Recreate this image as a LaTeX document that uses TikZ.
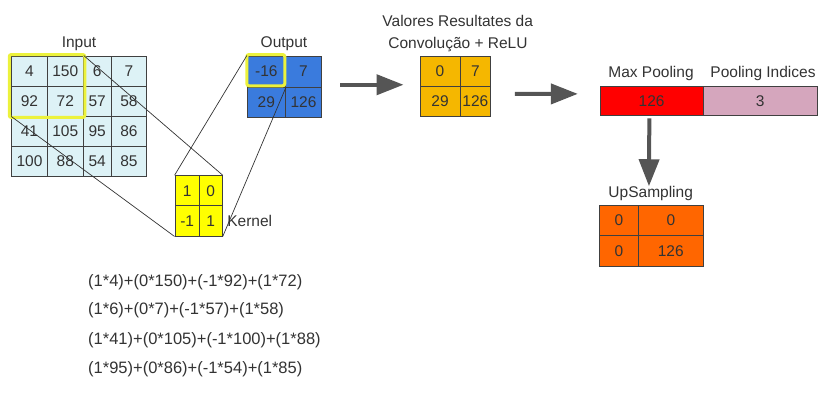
\documentclass[tikz,border=0pt]{standalone}
\usepackage{fontspec}
\setmainfont{Liberation Sans}
\usetikzlibrary{arrows.meta,positioning}
\definecolor{incyan}{RGB}{221,242,246}
\definecolor{outblue}{RGB}{58,123,221}
\definecolor{reluamber}{RGB}{245,183,0}
\definecolor{poolred}{RGB}{255,0,0}
\definecolor{idxpink}{RGB}{213,166,189}
\definecolor{uporange}{RGB}{255,102,0}
\definecolor{kernyellow}{RGB}{255,255,0}
\definecolor{hlyellow}{RGB}{236,242,60}
\definecolor{arrowgray}{RGB}{85,85,85}

\begin{document}
\begin{tikzpicture}[x=1pt,y=-1pt,font=\fontsize{15.5}{18}\selectfont,text=black!80]
  \tikzstyle{cell}=[draw=black!75,line width=0.9pt,inner sep=0pt,minimum height=30pt]
  \tikzstyle{lbl}=[inner sep=0pt,font=\fontsize{15.5}{18}\selectfont]
  \tikzstyle{formula}=[inner sep=0pt,anchor=base west,font=\fontsize{16.5}{20}\selectfont]
  \tikzstyle{bigarrow}=[-{Triangle[length=27pt,width=20pt]},line width=4pt,draw=arrowgray,fill=arrowgray]
  \tikzstyle{link}=[draw=black!80,line width=0.7pt]
  \tikzstyle{window}=[draw=hlyellow,line width=3pt,rounded corners=2pt]

  \useasboundingbox (0,0) rectangle (818,392);

  % input
  \foreach \r/\ry/\a/\b/\c/\d in {1/71/4/150/6/7,2/101/92/72/57/58,3/131/41/105/95/86,4/161/100/88/54/85}{
    \node[cell,fill=incyan,minimum width=35.6pt] (in\r1) at (29.5,\ry) {\a};
    \node[cell,fill=incyan,minimum width=36pt] (in\r2) at (65.3,\ry) {\b};
    \node[cell,fill=incyan,minimum width=27.7pt] (in\r3) at (97.2,\ry) {\c};
    \node[cell,fill=incyan,minimum width=35.7pt] (in\r4) at (128.9,\ry) {\d};
  }
  \node[lbl,anchor=base] (inlbl) at (79,47.3) {Input};
  \draw[window] ([shift={(-2,-1)}]in11.north west) rectangle ([shift={(1,1)}]in22.south east);

  % kernel
  \node[cell,fill=kernyellow,minimum width=24.3pt] (ker11) at (187.15,190.7) {1};
  \node[cell,fill=kernyellow,minimum width=23pt] (ker12) at (210.8,190.7) {0};
  \node[cell,fill=kernyellow,minimum width=24.3pt,minimum height=30.3pt] (ker21) at (187.15,220.85) {-1};
  \node[cell,fill=kernyellow,minimum width=23pt,minimum height=30.3pt] (ker22) at (210.8,220.85) {1};
  \node[lbl,right=4.4pt of ker22] (kerlbl) {Kernel};

  % output
  \node[cell,fill=outblue,minimum width=38pt,minimum height=31.3pt] (out11) at (266.3,71.65) {-16};
  \node[cell,fill=outblue,minimum width=36.4pt,minimum height=31.3pt] (out12) at (303.5,71.65) {7};
  \node[cell,fill=outblue,minimum width=38pt] (out21) at (266.3,102.3) {29};
  \node[cell,fill=outblue,minimum width=36.4pt] (out22) at (303.5,102.3) {126};
  \node[lbl,anchor=base] (outlbl) at (284,47.9) {Output};
  \draw[window] ([shift={(0,-1)}]out11.north west) rectangle ([shift={(-1,-2)}]out11.south east);

  \draw[link] (in12.north east) -- (ker12.north east);
  \draw[link] (in21.south west) -- (ker21.south west);
  \draw[link] (ker11.north west) -- (out11.north west);
  \draw[link] (ker22.south east) -- (out11.south east);

  % convolution + relu
  \node[cell,fill=reluamber,minimum width=40pt,minimum height=30.3pt] (relu11) at (440,71.15) {0};
  \node[cell,fill=reluamber,minimum width=30.7pt,minimum height=30.3pt] (relu12) at (475.35,71.15) {7};
  \node[cell,fill=reluamber,minimum width=40pt,minimum height=30.4pt] (relu21) at (440,101.5) {29};
  \node[cell,fill=reluamber,minimum width=30.7pt,minimum height=30.4pt] (relu22) at (475.35,101.5) {126};
  \node[lbl,anchor=base] (relulbl1) at (457.7,26.7) {Valores Resultates da};
  \node[lbl,anchor=base] (relulbl2) at (458,48.3) {Convolução + ReLU};

  % pooling
  \node[cell,fill=poolred,minimum width=103.3pt,minimum height=28.3pt] (maxp) at (651.65,100.85) {126};
  \node[cell,fill=idxpink,minimum width=113.7pt,minimum height=28.3pt] (idx) at (760.15,100.85) {3};
  \node[lbl,anchor=base] (maxlbl) at (651,77.3) {Max Pooling};
  \node[lbl,anchor=base] (idxlbl) at (763,77.3) {Pooling Indices};

  % upsampling
  \node[cell,fill=uporange,minimum width=39pt,minimum height=30.7pt] (up11) at (618.8,220.35) {0};
  \node[cell,fill=uporange,minimum width=65pt,minimum height=30.7pt] (up12) at (670.8,220.35) {0};
  \node[cell,fill=uporange,minimum width=39pt,minimum height=31pt] (up21) at (618.8,251.2) {0};
  \node[cell,fill=uporange,minimum width=65pt,minimum height=31pt] (up22) at (670.8,251.2) {126};
  \node[lbl,anchor=base] (uplbl) at (650.7,197.3) {UpSampling};

  \draw[bigarrow,shorten <=18.3pt,shorten >=16pt] ([yshift=3pt]out12.south east) -- ([yshift=2pt]relu11.south west);
  \draw[bigarrow,shorten <=23.6pt,shorten >=21.7pt] ([yshift=7.5pt]relu22.east) -- ([yshift=7pt]maxp.west);
  \draw[bigarrow,shorten <=3pt,shorten >=18.3pt] ([xshift=-2.3pt]maxp.south) -- ([xshift=11pt]up12.north west);

  % products
  \node[formula] (sum1) at (88,286) {(1*4)+(0*150)+(-1*92)+(1*72)};
  \node[formula] (sum2) at (88,314.5) {(1*6)+(0*7)+(-1*57)+(1*58)};
  \node[formula] (sum3) at (88,344.5) {(1*41)+(0*105)+(-1*100)+(1*88)};
  \node[formula] (sum4) at (88,373) {(1*95)+(0*86)+(-1*54)+(1*85)};
\end{tikzpicture}
\end{document}
